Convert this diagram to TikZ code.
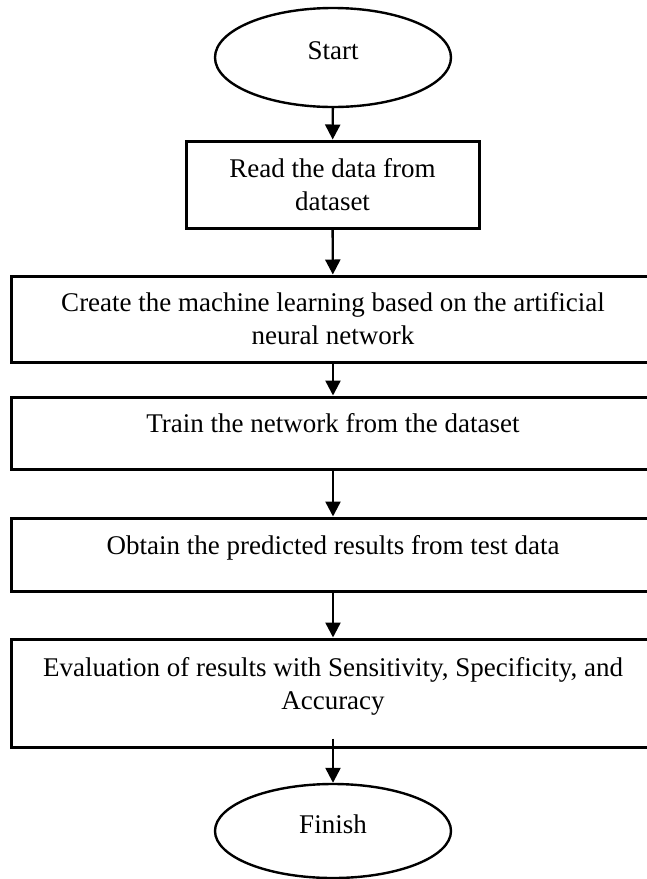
\documentclass[tikz,border=0pt]{standalone}
\usepackage{fontspec}
\setmainfont{Liberation Serif}
\usetikzlibrary{arrows.meta,positioning,shapes.geometric}
\tikzset{
  term/.style ={draw, ellipse, line width=1.2pt, minimum width=118pt, inner sep=0pt, text depth=7pt},
  box/.style  ={draw, rectangle, line width=1.5pt, align=center, inner sep=0pt},
  wide/.style ={box, minimum width=322pt},
  up/.style   ={text depth=10pt},
  ar/.style   ={-{Triangle[length=7.5pt,width=7.5pt]}, line width=1.2pt},
}

\begin{document}
\begin{tikzpicture}[x=0.5pt,y=-0.5pt,font=\fontsize{13.5}{16.5}\selectfont]
\useasboundingbox (0,0) rectangle (647,879);
\clip (0,0) rectangle (647,879);
\node[term, minimum height=49.5pt] (start) at (333,57.5) {Start};
\node[box, minimum width=146.5pt, minimum height=43.5pt] (read) at (332.5,184.5) {Read the data from\\ dataset};
\node[wide, minimum height=43pt] (create) at (333,319) {Create the machine learning based on the artificial\\ neural network};
\node[wide, up, minimum height=36pt] (train) at (333,433) {Train the network from the dataset};
\node[wide, up, minimum height=36.5pt] (obtain) at (333,554.5) {Obtain the predicted results from test data};
\node[wide, up, minimum height=54pt] (eval) at (333,693) {Evaluation of results with Sensitivity, Specificity, and\\ Accuracy};
\node[term, minimum height=47pt] (finish) at (333,831) {Finish};
\draw[ar] (start) -- (read);
\draw[ar] (read) -- (create);
\draw[ar] (create) -- (train);
\draw[ar] (train) -- (obtain);
\draw[ar] (obtain) -- (eval);
\draw[ar] ([yshift=5pt]eval.south) -- (finish.north);
\end{tikzpicture}
\end{document}
